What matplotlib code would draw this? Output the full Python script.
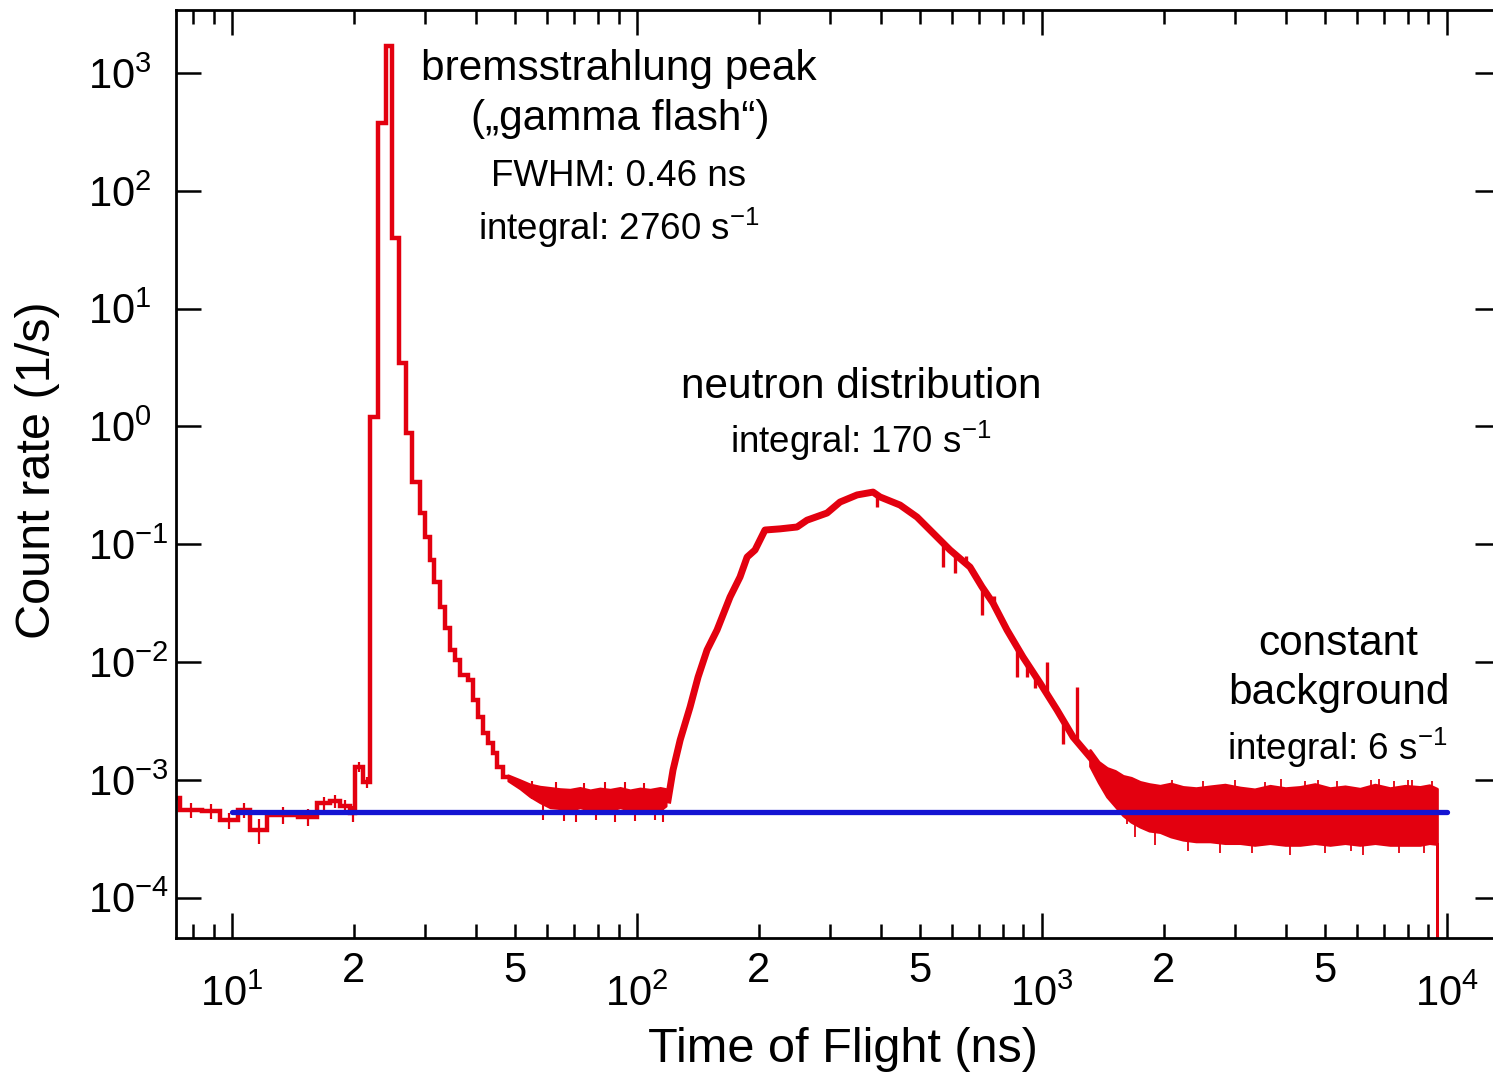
import numpy as np
import matplotlib.pyplot as plt
from matplotlib.ticker import LogLocator, NullLocator, FuncFormatter

# early part of the spectrum: 1 ns bins, drawn as a histogram
edges_early = [7.27, 7.44, 8.43, 9.34, 10.35, 11.08, 12.20, 14.55, 16.21, 17.46,
               18.48, 19.56, 20.12, 21.06, 21.92, 22.94, 24.01, 24.85, 25.85, 26.90,
               27.83, 29.13, 29.96, 30.83, 31.54, 32.63, 33.57, 34.54, 35.52, 36.56,
               38.25, 39.36, 40.50, 41.67, 42.87, 44.10, 45.12, 46.69, 48.04]
rate_early = [7.0e-4, 5.54e-4, 5.43e-4, 4.56e-4, 5.54e-4, 3.75e-4, 5.02e-4, 4.83e-4,
              6.36e-4, 6.61e-4, 6.0e-4, 5.22e-4, 1.285e-3, 9.58e-4, 1.20, 376.0,
              1695.0, 39.7, 3.45, 0.879, 0.337, 0.184, 0.115, 0.0734, 0.0478, 0.0293,
              0.0194, 0.01265, 0.0104, 0.00776, 0.00703, 0.00475, 0.00341, 0.00249,
              0.00205, 0.00169, 0.001285, 0.001057]
err_early = [0.0, 0.8e-4, 0.8e-4, 0.7e-4, 0.8e-4, 0.9e-4, 0.8e-4, 0.8e-4,
             0.8e-4, 0.8e-4, 0.8e-4, 0.8e-4, 1.2e-4, 1.0e-4]

# noisy background between gamma flash and neutrons (min / max envelope)
bg_ns = [48.0, 51.4, 54.4, 57.6, 61.0, 64.5, 68.3, 72.3, 76.6, 81.0, 85.8,
         90.8, 96.1, 101.7, 107.7, 114.0, 117.9]
bg_hi = [0.00110, 0.00100, 0.00092, 0.00088, 0.00086, 0.00084, 0.00083, 0.00086,
         0.00082, 0.00085, 0.00083, 0.00086, 0.00082, 0.00085, 0.00083, 0.00086, 0.00084]
bg_lo = [0.00098, 0.00084, 0.00072, 0.00064, 0.00058, 0.00057, 0.00055, 0.00058,
         0.00055, 0.00057, 0.00055, 0.00058, 0.00055, 0.00057, 0.00055, 0.00055, 0.00060]
bg_needle_ns = [55.0, 58.5, 63.0, 66.0, 70.5, 74.0, 79.0, 83.5, 88.0, 93.5, 99.0,
                104.0, 110.5, 116.0]
bg_needle_tip = [0.00098, 0.00046, 0.00095, 0.00045, 0.00044, 0.00094, 0.00046,
                 0.00096, 0.00044, 0.00095, 0.00045, 0.00094, 0.00046, 0.00044]

# neutron distribution
n_ns = [119.3, 122.7, 127.8, 135.2, 141.5, 148.9, 157.6, 169.7, 179.6, 187.0, 195.6,
        207.0, 225.5, 248.4, 262.9, 294.6, 317.1, 349.4, 382.6, 398.1, 446.1, 491.4,
        538.1, 592.8, 664.1, 711.1, 756.8, 819.6, 897.9, 988.8, 1089, 1193, 1314, 1447]
n_rate = [6.75e-4, 1.21e-3, 2.18e-3, 4.15e-3, 7.46e-3, 0.01265, 0.0187, 0.0356, 0.0527,
          0.0778, 0.0893, 0.132, 0.135, 0.140, 0.160, 0.184, 0.228, 0.262, 0.277, 0.252,
          0.215, 0.170, 0.1245, 0.0893, 0.064, 0.0434, 0.0317, 0.0187, 0.011, 0.00664,
          0.00392, 0.00231, 0.00156, 0.00106]
spike_ns = [391, 570, 610, 650, 711, 760, 868, 918, 960, 1029, 1130, 1220]
spike_base = [0.26, 0.105, 0.085, 0.070, 0.045, 0.031, 0.0135, 0.0098, 0.0075, 0.0054,
              0.0030, 0.0022]
spike_tip = [0.207, 0.064, 0.057, 0.080, 0.0251, 0.036, 0.00746, 0.00746, 0.0060,
             0.0100, 0.0020, 0.00614]

# constant background tail (min / max envelope), last bin drops to zero
tail_ns = [1314, 1380, 1447, 1515, 1585, 1660, 1746, 1840, 1956, 2080, 2229, 2400,
           2599, 2830, 3083, 3350, 3656, 3990, 4335, 4720, 5141, 5600, 6098, 6640,
           7232, 7880, 8577, 9050, 9447, 9447]
tail_hi = [0.00179, 0.00142, 0.00126, 0.00119, 0.00108, 0.00104, 0.00096, 0.00092,
           0.00089, 0.00093, 0.00087, 0.00085, 0.00088, 0.00091, 0.00086, 0.00083,
           0.00089, 0.00085, 0.00087, 0.00092, 0.00085, 0.00088, 0.00084, 0.00091,
           0.00085, 0.00089, 0.00087, 0.00090, 0.00084, 1e-6]
tail_lo = [0.00131, 0.00095, 0.00072, 0.00060, 0.00050, 0.00044, 0.00040, 0.00037,
           0.00036, 0.00033, 0.00031, 0.00030, 0.00030, 0.00029, 0.00029, 0.00028,
           0.00029, 0.00028, 0.00028, 0.00029, 0.00028, 0.00029, 0.00028, 0.00029,
           0.00028, 0.00028, 0.00028, 0.00029, 0.000285, 1e-6]
needle_ns = [1620, 1700, 1900, 2100, 2300, 2500, 2750, 3000, 3300, 3550, 3900, 4100,
             4450, 4800, 5000, 5350, 5800, 6200, 6500, 6800, 7400, 7600, 8000, 8200,
             8800, 9200]
needle_tip = [0.00042, 0.00033, 0.00028, 0.00100, 0.00025, 0.00097, 0.00024, 0.00099,
              0.00024, 0.00096, 0.00101, 0.00023, 0.00098, 0.00100, 0.00024, 0.00097,
              0.00025, 0.00023, 0.00099, 0.00101, 0.00097, 0.00024, 0.00099, 0.00100,
              0.00024, 0.00098]

# fitted constant background
bg_level = 5.33e-4
bg_range = [10.0, 1.0e4]

red = '#e3000f'
blue = '#1414d2'

plt.rcParams['font.family'] = ['Liberation Sans', 'DejaVu Sans']
plt.rcParams['mathtext.default'] = 'regular'

W, H = 1493, 1081
fig = plt.figure(figsize=(W / 100, H / 100), dpi=100)
ax = fig.add_axes([176 / W, 1 - 938 / H, (1500 - 176) / W, (938 - 10) / H])
ax.set_xscale('log')
ax.set_yscale('log')
ax.set_xlim(7.27, 13520)
ax.set_ylim(4.54e-5, 3428)

# data
ax.stairs(rate_early, edges_early, color=red, lw=3.2, baseline=None)
centers = [np.sqrt(edges_early[i] * edges_early[i + 1]) for i in range(len(err_early))]
ax.errorbar(centers, rate_early[:len(err_early)], yerr=err_early, fmt='none',
            ecolor=red, elinewidth=1.6, capsize=0)
ax.fill_between(bg_ns, bg_lo, bg_hi, color=red, lw=1.5)
ax.vlines(bg_needle_ns, bg_level * 1.3, bg_needle_tip, color=red, lw=1.5)
ax.plot(n_ns, n_rate, color=red, lw=5.0)
ax.vlines(spike_ns, spike_base, spike_tip, color=red, lw=2.4)
ax.fill_between(tail_ns, tail_lo, tail_hi, color=red, lw=2.0)
ax.vlines(needle_ns, bg_level, needle_tip, color=red, lw=1.3)
ax.hlines(bg_level, bg_range[0], bg_range[1], color=blue, lw=3.8, zorder=5,
          capstyle='round')

# ticks
def major_fmt(v, pos):
    return '$10^{%d}$' % int(round(np.log10(v)))

def minor_fmt(v, pos):
    d = int(round(v / 10 ** np.floor(np.log10(v) + 1e-9)))
    return str(d) if d in (2, 5) and 7.27 <= v <= 13520 else ''

ax.xaxis.set_major_locator(LogLocator(base=10, numticks=20))
ax.xaxis.set_minor_locator(LogLocator(base=10, subs=np.arange(2, 10), numticks=20))
ax.xaxis.set_major_formatter(FuncFormatter(major_fmt))
ax.xaxis.set_minor_formatter(FuncFormatter(minor_fmt))
ax.yaxis.set_major_locator(LogLocator(base=10, numticks=20))
ax.yaxis.set_minor_locator(NullLocator())
ax.yaxis.set_major_formatter(FuncFormatter(major_fmt))

ax.tick_params(axis='x', which='major', direction='in', top=True, length=18, width=1.8,
               pad=26, labelsize=30)
ax.tick_params(axis='x', which='minor', direction='in', top=True, length=10, width=1.8,
               pad=9, labelsize=30)
ax.tick_params(axis='y', which='major', direction='in', right=True, length=18, width=1.8,
               pad=63, labelsize=30)
for t in ax.get_yticklabels():
    t.set_horizontalalignment('left')
for s in ax.spines.values():
    s.set_linewidth(2.0)
ax.xaxis.label.set_visible(False)
ax.yaxis.label.set_visible(False)

# axis titles
fig.text(843 / W, 1 - 1050 / H, 'Time of Flight (ns)', ha='center', va='center',
         fontsize=35)
fig.text(38 / W, 1 - 470 / H, 'Count rate (1/s)', ha='center', va='center',
         rotation=90, fontsize=35)

# annotations
notes = [
    (619, 80, 'bremsstrahlung peak', 30.5),
    (620, 130, '(\u201egamma flash\u201c)', 30.5),
    (619, 186, 'FWHM: 0.46 ns', 26.5),
    (619, 240, 'integral: 2760 s$^{-1}$', 26.5),
    (861, 398, 'neutron distribution', 30.5),
    (861, 453, 'integral: 170 s$^{-1}$', 26.5),
    (1338, 655, 'constant', 30.5),
    (1339, 704, 'background', 30.5),
    (1337, 760, 'integral: 6 s$^{-1}$', 26.5),
]
for x, y, s, fs in notes:
    fig.text(x / W, 1 - y / H, s, ha='center', va='baseline', fontsize=fs)

fig.savefig('out.png', dpi=100)
